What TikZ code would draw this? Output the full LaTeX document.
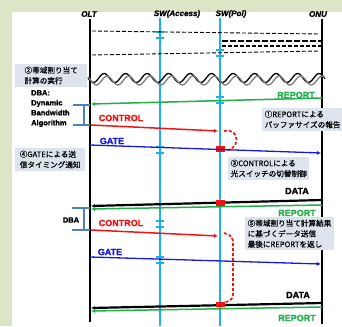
\documentclass[tikz,border=0pt]{standalone}
\usepackage{fontspec}
\setmainfont{Liberation Sans}
\newfontfamily\jp{Noto Sans CJK JP}[FakeBold=0.5]
\newfontfamily\heavy{Liberation Sans}[BoldFeatures={FakeBold=1.6}, BoldItalicFeatures={FakeBold=1.6}]
\usetikzlibrary{arrows.meta}
\definecolor{bggreen}{HTML}{DCE5C6}
\definecolor{swcyan}{HTML}{1AB2EE}
\definecolor{notebg}{HTML}{DDE4EE}
\definecolor{repgreen}{HTML}{1FB04A}
\definecolor{ctlred}{HTML}{F01515}
\definecolor{gateblue}{HTML}{1818E6}
\definecolor{brblue}{HTML}{4F81BD}
\tikzset{
  lifeline/.style={line width=1.6pt, black},
  swline/.style={line width=1.8pt, swcyan},
  swtick/.style={line width=1.3pt, swcyan},
  note/.style={fill=notebg, font=\jp\fontsize{7.6}{10.5}\selectfont, align=left, inner sep=2.5pt, anchor=north west},
  hdr/.style={font=\heavy\bfseries\itshape\fontsize{8}{9}\selectfont},
  msglbl/.style={font=\heavy\bfseries\fontsize{9}{10}\selectfont, inner sep=0pt},
  dbalbl/.style={font=\heavy\bfseries\fontsize{7.5}{10}\selectfont, align=left, inner sep=0pt},
  tip/.style={-{Latex[length=4pt,width=4pt]}},
  repmsg/.style={repgreen, line width=1.5pt, tip},
  ctlmsg/.style={ctlred, line width=1.5pt, tip},
  gatemsg/.style={gateblue, line width=1.3pt, tip},
  datamsg/.style={black, line width=2.2pt, tip},
  ghostmsg/.style={black, line width=0.9pt, dash pattern=on 4pt off 2pt},
  ctlpath/.style={ctlred, line width=1.7pt, dash pattern=on 3pt off 2pt},
  redmark/.style={fill=ctlred, draw=none},
  bracket/.style={brblue, line width=1.2pt}
}
\begin{document}
\begin{tikzpicture}[x=1pt,y=-1pt]
\useasboundingbox (0,0) rectangle (342,326);
\fill[bggreen] (0,0) rectangle (342,326);
\fill[white] (12,12) rectangle (342,326);

% headers
\node[hdr] (olt) at (89,14) {OLT};
\node[hdr] (swa) at (177,14) {SW(Access)};
\node[hdr] (swp) at (231,14) {SW(Pol)};
\node[hdr] (onu) at (318,14) {ONU};

% lifelines
\coordinate (oltT) at (90,19); \coordinate (oltB) at (90,322);
\coordinate (swaT) at (160,18); \coordinate (swaB) at (160,326);
\coordinate (swpT) at (220,18); \coordinate (swpB) at (220,326);
\coordinate (onuT) at (322,19); \coordinate (onuB) at (322,324);
\draw[swline] (swaT) -- (swaB);
\draw[swline] (swpT) -- (swpB);
\draw[lifeline] (oltT) -- (oltB);
\draw[lifeline] (onuT) -- (onuB);

% ticks on switches
\foreach \y in {32,38,147,153,221,227,257,263}
  \draw[swtick] (156,\y) -- (164,\y);
\foreach \y in {50,56,97,103}
  \draw[swtick] (216,\y) -- (224,\y);

% faded earlier messages
\coordinate (g1a) at (92,31); \coordinate (g1b) at (320,34);
\coordinate (g2a) at (92,55); \coordinate (g2b) at (320,51);
\draw[ghostmsg] (g1a) -- (g1b);
\draw[ghostmsg] (g2a) -- (g2b);
\draw[black, line width=2.4pt, dash pattern=on 6pt off 2pt] (222,41) -- (322,41);
\draw[black, line width=2.4pt, dash pattern=on 4pt off 2pt] (222,46) -- (322,46);

% time break waves
\draw[black, line width=1.3pt] plot[domain=88:325, samples=160] (\x, {78+4.5*sin((\x-88)/21.5*360)});
\draw[gray, line width=1.3pt] plot[domain=88:325, samples=160] (\x, {80.5+4.5*sin((\x-91)/21.5*360)});

% note 2
\node[note, minimum width=72pt] (n2) at (15,64) {②帯域割り当て\\計算の実行};

% DBA label and bracket
\node[dbalbl, anchor=north west] (dba1) at (31,90) {DBA:\\Dynamic\\Bandwidth\\Algorithm};
\draw[bracket] (73,105) -- (84,105) -- (84,125) -- (73,125);
\draw[bracket] (84,105) -- (90,105);
\draw[bracket] (84,125) -- (90,125);

% cycle 1
\coordinate (r1s) at (322,98); \coordinate (r1e) at (91,104);
\draw[repmsg] (r1s) -- (r1e);
\node[msglbl, repgreen] (r1l) at (296,95) {REPORT};
\node[note] (n1) at (262,108) {①REPORTによる\\バッファサイズの報告};

\node[msglbl, ctlred] (c1l) at (121,118) {CONTROL};
\coordinate (c1s) at (91,125); \coordinate (c1e) at (218,131);
\draw[ctlmsg] (c1s) -- (c1e);
\coordinate (c1a) at (224,131); \coordinate (c1b) at (222,150);
\draw[ctlpath] (c1a) .. controls (241,127) and (241,153) .. (c1b);
\fill[redmark] (216,146) rectangle (225,152);

\node[msglbl, gateblue] (g1l) at (112,141) {GATE};
\coordinate (ga1s) at (90,145); \coordinate (ga1e) at (321,153);
\draw[gatemsg] (ga1s) -- (ga1e);

\node[note, minimum width=70pt] (n4) at (15,148) {④GATEによる送\\信タイミング通知};
\node[note] (n3) at (228,157) {③CONTROLによる\\光スイッチの切替制御};

\node[msglbl] (d1l) at (297,191) {DATA};
\coordinate (d1s) at (322,200); \coordinate (d1e) at (91,206);
\draw[datamsg] (d1s) -- (d1e);
\coordinate (r2s) at (322,205); \coordinate (r2e) at (91,209);
\draw[repmsg] (r2s) -- (r2e);
\fill[redmark] (216,200) rectangle (225,206);
\node[msglbl, repgreen] (r2l) at (297,213) {REPORT};

% cycle 2
\node[font=\heavy\bfseries\fontsize{7.5}{9}\selectfont, inner sep=0pt] (dba2) at (71,220) {DBA};
\draw[bracket] (72,208) -- (84,208) -- (84,230) -- (72,230);
\draw[bracket] (84,208) -- (90,208);
\draw[bracket] (84,230) -- (90,230);

\node[msglbl, ctlred] (c2l) at (121,223) {CONTROL};
\coordinate (c2s) at (91,230); \coordinate (c2e) at (218,236);
\draw[ctlmsg] (c2s) -- (c2e);
\coordinate (c2a) at (224,233); \coordinate (c2b) at (222,303);
\draw[ctlpath, rounded corners=5pt] (c2a) -- (233,236) -- (233,300) -- (c2b);

\node[note] (n5) at (245,217) {⑤帯域割り当て計算結果\\に基づくデータ送信\\最後にREPORTを返し};

\node[msglbl, gateblue] (g2l) at (110,252) {GATE};
\coordinate (ga2s) at (90,257); \coordinate (ga2e) at (321,264);
\draw[gatemsg] (ga2s) -- (ga2e);

\node[msglbl] (d2l) at (298,295) {DATA};
\coordinate (d2s) at (322,303); \coordinate (d2e) at (91,308);
\draw[datamsg] (d2s) -- (d2e);
\coordinate (r3s) at (322,307); \coordinate (r3e) at (91,311);
\draw[repmsg] (r3s) -- (r3e);
\fill[redmark] (216,302) rectangle (225,307);
\node[msglbl, repgreen] (r3l) at (297,318) {REPORT};
\end{tikzpicture}
\end{document}
